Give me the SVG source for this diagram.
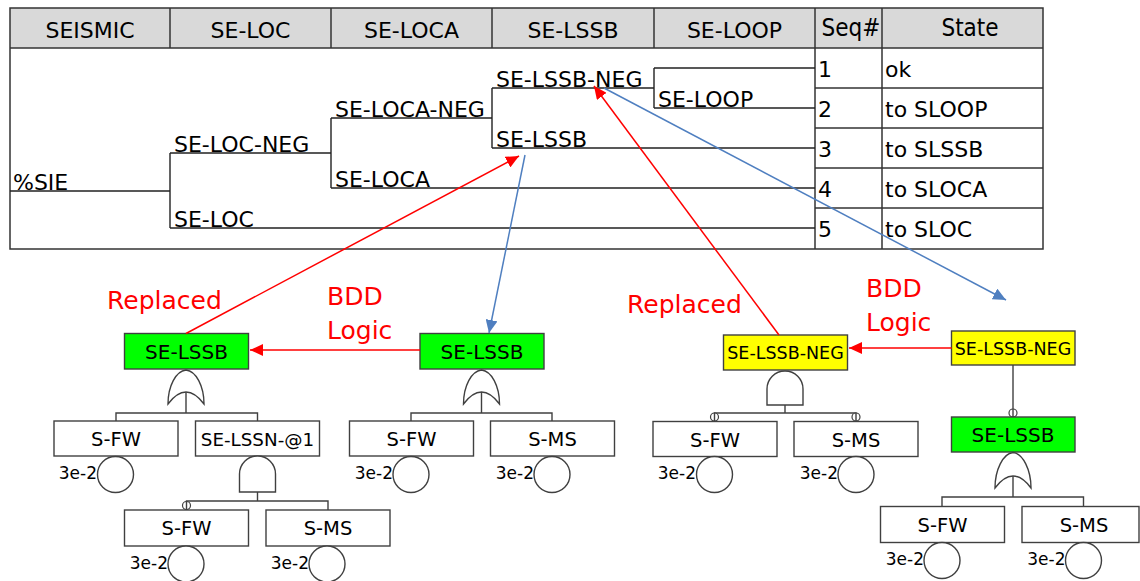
<svg xmlns="http://www.w3.org/2000/svg" width="1140" height="581" viewBox="0 0 1140 581">
<style>
text{font-family:"DejaVu Sans","Liberation Sans",sans-serif;fill:#000}
.hd{font-size:22px;text-anchor:middle}
.hc{font-family:"DejaVu Sans Condensed","DejaVu Sans",sans-serif;font-size:24px;text-anchor:middle}
.tl{font-size:22px}
.rw{font-size:22px}
.grid{fill:none;stroke:#333;stroke-width:1.5}
.tree{fill:none;stroke:#222;stroke-width:1.4}
.box{fill:#fff;stroke:#404040;stroke-width:1.4}
.green{fill:#00ff00;stroke:#404040;stroke-width:1.4}
.yellow{fill:#ffff00;stroke:#404040;stroke-width:1.4}
.gate{fill:#fff;stroke:#404040;stroke-width:1.4}
.ln{fill:none;stroke:#404040;stroke-width:1.4}
.bt{font-size:19.5px;text-anchor:middle}
.gt{font-size:20px;text-anchor:middle}
.yt{font-size:17.5px;text-anchor:middle}
.pr{font-size:17px;text-anchor:end}
.red{font-size:25px;fill:#ff0000}
.ra{fill:none;stroke:#ff0000;stroke-width:1.5}
.ba{fill:none;stroke:#4f7fc0;stroke-width:1.5}
.neg{fill:#fff;stroke:#404040;stroke-width:1.2}
</style>
<defs>
<marker id="ar" markerUnits="userSpaceOnUse" markerWidth="14" markerHeight="12" refX="13" refY="6" orient="auto"><path d="M0,0 L13,6 L0,12 Z" fill="#ff0000"/></marker>
<marker id="ab" markerUnits="userSpaceOnUse" markerWidth="14" markerHeight="12" refX="13" refY="6" orient="auto"><path d="M0,0 L13,6 L0,12 Z" fill="#4f7fc0"/></marker>
</defs>
<rect width="1140" height="581" fill="#fff"/>

<g id="table">
<rect x="10" y="8" width="1033" height="40" fill="#d9d9d9"/>
<rect x="10" y="8" width="1033" height="241" class="grid"/>
<line x1="10" y1="48" x2="1043" y2="48" class="grid"/>
<line x1="170" y1="8" x2="170" y2="48" class="grid"/>
<line x1="331" y1="8" x2="331" y2="48" class="grid"/>
<line x1="492" y1="8" x2="492" y2="48" class="grid"/>
<line x1="654" y1="8" x2="654" y2="48" class="grid"/>
<line x1="815" y1="8" x2="815" y2="249" class="grid"/>
<line x1="882" y1="8" x2="882" y2="249" class="grid"/>
<line x1="815" y1="88" x2="1043" y2="88" class="grid"/>
<line x1="815" y1="128" x2="1043" y2="128" class="grid"/>
<line x1="815" y1="168" x2="1043" y2="168" class="grid"/>
<line x1="815" y1="208" x2="1043" y2="208" class="grid"/>
<text x="90" y="38" class="hd">SEISMIC</text>
<text x="250.5" y="38" class="hd">SE-LOC</text>
<text x="411.5" y="38" class="hd">SE-LOCA</text>
<text x="573" y="38" class="hd">SE-LSSB</text>
<text x="734.5" y="38" class="hd">SE-LOOP</text>
<text x="851" y="36" class="hc">Seq#</text>
<text x="970" y="36" class="hc">State</text>
<text x="818" y="77" class="rw">1</text><text x="885" y="77" class="rw">ok</text>
<text x="818" y="117" class="rw">2</text><text x="885" y="117" class="rw">to SLOOP</text>
<text x="818" y="157" class="rw">3</text><text x="885" y="157" class="rw">to SLSSB</text>
<text x="818" y="197" class="rw">4</text><text x="885" y="197" class="rw">to SLOCA</text>
<text x="818" y="237" class="rw">5</text><text x="885" y="237" class="rw">to SLOC</text>
</g>

<g id="event-tree">
<path class="tree" d="M10,191 H170 M170,153 V228 M170,153 H331 M170,228 H815 M331,118 V188 M331,118 H492 M331,188 H815 M492,88 V148 M492,88 H654 M492,148 H815 M654,68 V108 M654,68 H815 M654,108 H815"/>
<text x="13" y="190" class="tl">%SIE</text>
<text x="174" y="152" class="tl">SE-LOC-NEG</text>
<text x="174" y="227" class="tl">SE-LOC</text>
<text x="335" y="117" class="tl">SE-LOCA-NEG</text>
<text x="335" y="187" class="tl">SE-LOCA</text>
<text x="496" y="87" class="tl">SE-LSSB-NEG</text>
<text x="496" y="147" class="tl">SE-LSSB</text>
<text x="658" y="107" class="tl">SE-LOOP</text>
</g>

<g id="tree-replaced-lssb">
<rect x="124.5" y="333.5" width="124" height="35.5" class="green"/>
<text x="186.5" y="359" class="gt">SE-LSSB</text>
<path class="gate" d="M168,404 C168,386 176,371 186,370 C196,371 204,386 204,404 Q186,380 168,404 Z"/>
<path class="ln" d="M186,392 V413 M116,421 V413 H257.5 V421"/>
<rect x="54" y="421" width="124" height="35" class="box"/>
<text x="116" y="446" class="bt">S-FW</text>
<circle cx="115.5" cy="474.5" r="18" class="box"/>
<text x="97" y="479" class="pr">3e-2</text>
<rect x="195.5" y="421" width="124" height="35" class="box"/>
<text x="257.5" y="445.5" class="bt" style="font-size:18.3px">SE-LSSN-@1</text>
<path class="gate" d="M239.5,492 V474 A18,18 0 0 1 275.5,474 V492 Z"/>
<path class="ln" d="M257.5,492 V501 M186.5,510 V501 H328 V510"/>
<circle cx="186.5" cy="505.5" r="4" class="neg"/>
<line x1="186.5" y1="501" x2="186.5" y2="510" class="ln"/>
<rect x="124.5" y="510" width="124" height="36" class="box"/>
<text x="186.5" y="535" class="bt">S-FW</text>
<circle cx="186" cy="564" r="18" class="box"/>
<text x="168" y="569" class="pr">3e-2</text>
<rect x="266" y="510" width="124" height="36" class="box"/>
<text x="328" y="535" class="bt">S-MS</text>
<circle cx="327" cy="564" r="18" class="box"/>
<text x="309" y="569" class="pr">3e-2</text>
</g>

<g id="tree-bdd-lssb">
<rect x="420" y="333.5" width="124" height="35.5" class="green"/>
<text x="482" y="359" class="gt">SE-LSSB</text>
<path class="gate" d="M463.5,404 C463.5,386 471.5,371 481.5,370 C491.5,371 499.5,386 499.5,404 Q481.5,380 463.5,404 Z"/>
<path class="ln" d="M481.5,392 V413 M411,421 V413 H552 V421"/>
<rect x="349.5" y="421" width="124" height="35" class="box"/>
<text x="411.5" y="446" class="bt">S-FW</text>
<circle cx="411" cy="474.5" r="18" class="box"/>
<text x="393" y="479" class="pr">3e-2</text>
<rect x="490.5" y="421" width="124" height="35" class="box"/>
<text x="552.5" y="446" class="bt">S-MS</text>
<circle cx="552" cy="474.5" r="18" class="box"/>
<text x="534" y="479" class="pr">3e-2</text>
</g>

<g id="tree-replaced-lssb-neg">
<rect x="723.5" y="335" width="124" height="35" class="yellow"/>
<text x="785.5" y="359" class="yt">SE-LSSB-NEG</text>
<path class="gate" d="M767,405 V389 A18,18 0 0 1 803,389 V405 Z"/>
<path class="ln" d="M785,405 V413 M714.5,421.5 V413 H856 V421.5"/>
<circle cx="714.5" cy="417" r="4" class="neg"/>
<line x1="714.5" y1="413" x2="714.5" y2="421.5" class="ln"/>
<circle cx="856" cy="417" r="4" class="neg"/>
<line x1="856" y1="413" x2="856" y2="421.5" class="ln"/>
<rect x="653" y="421.5" width="124" height="35" class="box"/>
<text x="715" y="446.5" class="bt">S-FW</text>
<circle cx="714.5" cy="474.5" r="18" class="box"/>
<text x="696" y="479" class="pr">3e-2</text>
<rect x="794" y="421.5" width="124" height="35" class="box"/>
<text x="856" y="446.5" class="bt">S-MS</text>
<circle cx="856" cy="474.5" r="18" class="box"/>
<text x="838" y="479" class="pr">3e-2</text>
</g>

<g id="tree-bdd-lssb-neg">
<rect x="951.5" y="331" width="123.5" height="34" class="yellow"/>
<text x="1013" y="355" class="yt">SE-LSSB-NEG</text>
<line x1="1013" y1="365" x2="1013" y2="417" class="ln"/>
<circle cx="1013" cy="413" r="4" class="neg"/>
<line x1="1013" y1="409" x2="1013" y2="417" class="ln"/>
<rect x="951.5" y="417" width="123.5" height="35" class="green"/>
<text x="1013" y="442" class="gt">SE-LSSB</text>
<path class="gate" d="M995,488 C995,470 1003,453.5 1013,452.5 C1023,453.5 1031,470 1031,488 Q1013,464 995,488 Z"/>
<path class="ln" d="M1013,476 V497 M942,506.5 V497 H1083.5 V506.5"/>
<rect x="880.5" y="506.5" width="124" height="36" class="box"/>
<text x="942.5" y="532" class="bt">S-FW</text>
<circle cx="942" cy="560.5" r="18" class="box"/>
<text x="924" y="565" class="pr">3e-2</text>
<rect x="1022" y="506.5" width="117" height="36" class="box"/>
<text x="1084" y="532" class="bt">S-MS</text>
<circle cx="1083.5" cy="560.5" r="18" class="box"/>
<text x="1065.5" y="565" class="pr">3e-2</text>
</g>

<g id="connectors">
<line x1="186" y1="333.5" x2="519" y2="156" class="ra" marker-end="url(#ar)"/>
<line x1="525" y1="155" x2="489" y2="333" class="ba" marker-end="url(#ab)"/>
<line x1="420" y1="350" x2="250" y2="350" class="ra" marker-end="url(#ar)"/>
<line x1="779" y1="335" x2="594" y2="86" class="ra" marker-end="url(#ar)"/>
<line x1="604" y1="88" x2="1006" y2="300" class="ba" marker-end="url(#ab)"/>
<line x1="951.5" y1="348" x2="849" y2="348" class="ra" marker-end="url(#ar)"/>
</g>

<g id="labels">
<text x="107" y="308.5" class="red">Replaced</text>
<text x="327" y="305" class="red">BDD</text>
<text x="327" y="339" class="red">Logic</text>
<text x="627" y="313" class="red">Replaced</text>
<text x="866" y="297" class="red">BDD</text>
<text x="866" y="331" class="red">Logic</text>
</g>
</svg>
